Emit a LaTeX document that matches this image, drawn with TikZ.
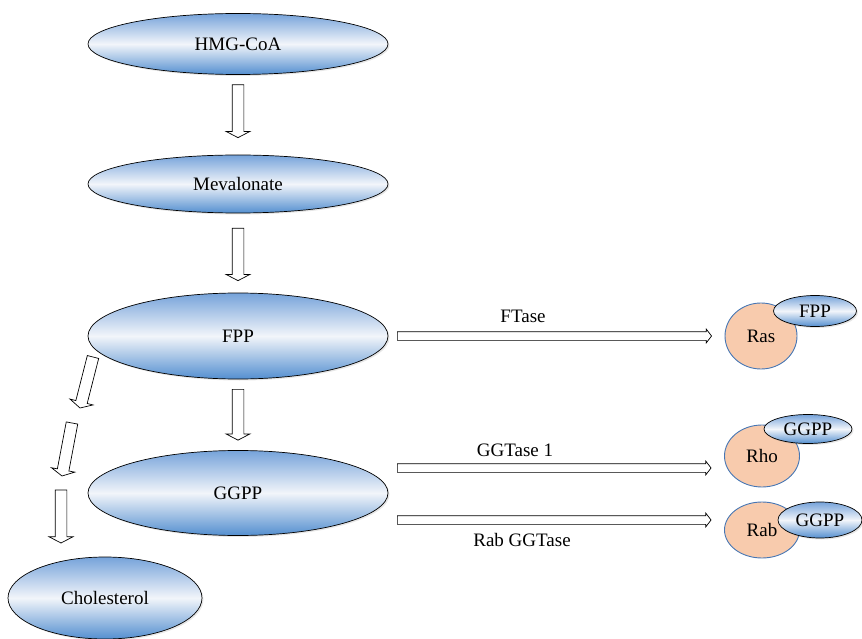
\documentclass[tikz,border=0pt]{standalone}
\usepackage{fontspec}
\setmainfont{Liberation Serif}
\usetikzlibrary{shapes.geometric,shapes.arrows,calc,shadows}
\definecolor{elltop}{RGB}{118,163,218}
\definecolor{ellmid}{RGB}{242,245,250}
\definecolor{ellbot}{RGB}{84,143,208}
\definecolor{protfill}{RGB}{248,203,173}
\definecolor{protline}{RGB}{70,118,180}
\tikzset{
  metab/.style={ellipse,draw=black,line width=.7pt,inner sep=0pt,top color=elltop,bottom color=ellbot,middle color=ellmid,
    drop shadow={opacity=.2,shadow xshift=1.5pt,shadow yshift=-1.5pt}},
  prot/.style={ellipse,draw=protline,line width=.9pt,fill=protfill,inner sep=0pt},
  bigarrow/.style={single arrow,draw=black,fill=white,line width=.7pt,inner xsep=0pt,inner ysep=5.5pt,outer sep=0pt,
    single arrow head extend=6pt,single arrow tip angle=125},
  thinarrow/.style={bigarrow,inner ysep=4pt,single arrow head extend=2.5pt,single arrow tip angle=105},
}
% hollow block arrow from #2 to #3
\newcommand{\blkarrow}[3][bigarrow]{%
  \path let \p1=(#2), \p2=(#3), \n1={atan2(\y2-\y1,\x2-\x1)}, \n2={veclen(\x2-\x1,\y2-\y1)} in
    (\p1) node[#1,anchor=tail,rotate=\n1,minimum height=\n2]{};}

\begin{document}
\begin{tikzpicture}[x=1pt,y=-1pt,font=\fontsize{19}{22}\selectfont]
\useasboundingbox (0,0) rectangle (862,639);
\node[metab,minimum width=300,minimum height=61] (hmg) at (238,44) {HMG-CoA};
\node[metab,minimum width=300,minimum height=58] (mev) at (238,184) {Mevalonate};
\node[metab,minimum width=300,minimum height=86] (fpp) at (238,336) {FPP};
\node[metab,minimum width=300,minimum height=85] (ggpp) at (238,493) {GGPP};
\node[metab,minimum width=194,minimum height=82] (chol) at (105,598) {Cholesterol};

\node[prot,minimum width=72,minimum height=66] (ras) at (761,336) {Ras};
\node[metab,minimum width=83,minimum height=31] (rasfpp) at (815,311) {FPP};
\node[prot,minimum width=75,minimum height=62] (rho) at (762,456) {Rho};
\node[metab,minimum width=88,minimum height=29] (rhoggpp) at (808,429) {GGPP};
\node[prot,minimum width=75,minimum height=56] (rab) at (762,530) {Rab};
\node[metab,minimum width=84,minimum height=36] (rabggpp) at (820,520) {GGPP};

\blkarrow{[yshift=-10pt]hmg.south}{[yshift=17pt]mev.north}
\blkarrow{[yshift=-15pt]mev.south}{[yshift=12pt]fpp.north}
\blkarrow{[yshift=-10pt]fpp.south}{[yshift=10pt]ggpp.north}

\coordinate (d1) at (93,357);
\coordinate (d2) at (80,408);
\coordinate (d3) at (72,423);
\coordinate (d4) at (62,476);
\coordinate (d5) at (61,490);
\coordinate (d6) at (61,543);
\blkarrow{d1}{d2}
\blkarrow{d3}{d4}
\blkarrow{d5}{d6}

\blkarrow[thinarrow]{[xshift=9pt]fpp.east}{[xshift=-13pt]ras.west}
\blkarrow[thinarrow]{[xshift=9pt,yshift=25pt]ggpp.east}{[xshift=-13pt,yshift=-12pt]rho.west}
\blkarrow[thinarrow]{[xshift=9pt,yshift=-27pt]ggpp.east}{[xshift=-13pt,yshift=10pt]rab.west}

\node (ftase) at (523,316) {FTase};
\node (ggt) at (515,450) {GGTase 1};
\node (rabggt) at (522,540) {Rab GGTase};
\end{tikzpicture}
\end{document}
